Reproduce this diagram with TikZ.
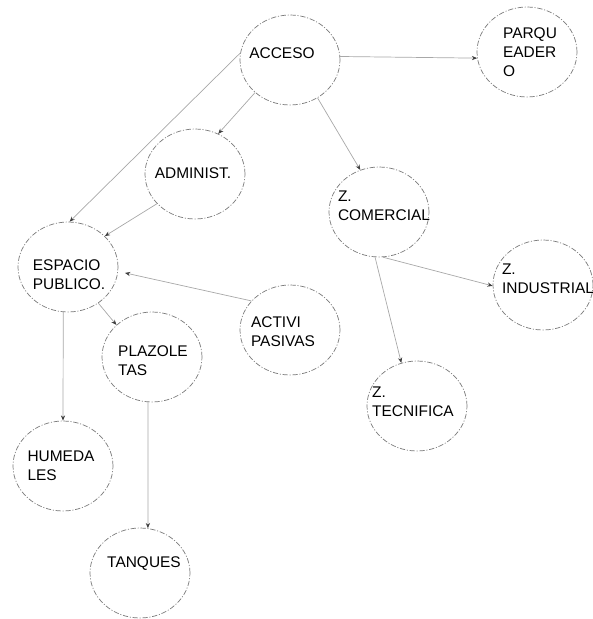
\documentclass[tikz,border=0pt]{standalone}
\usepackage{fontspec}
\setmainfont{Liberation Sans}
\usepackage{tikz}
\usetikzlibrary{shapes.geometric, arrows.meta}
\definecolor{borde}{HTML}{7A7A7A}
\definecolor{linea}{HTML}{A8A8A8}
\tikzset{
	zona/.style={ellipse, draw=borde, line width=0.4pt, dash pattern=on 3pt off 1pt on 0.6pt off 1pt, minimum width=2cm, minimum height=1.8cm, inner sep=0pt},
	texto/.style={align=left, inner sep=0pt, font=\fontsize{8.8}{10.8}\selectfont, text=black},
	flecha/.style={draw=linea, line width=0.4pt, -{Stealth[length=3pt, width=2.4pt, color=black!75]}},
}

\begin{document}
\begin{tikzpicture}[x=0.02cm, y=-0.02cm]
		\useasboundingbox (0,0) rectangle (592,619);
		% zonas
		\node[zona] (acceso) at (290,60) {};
		\node[zona] (parq) at (527,52) {};
		\node[zona] (admin) at (195,174) {};
		\node[zona] (comercial) at (379,212) {};
		\node[zona] (espacio) at (68,267) {};
		\node[zona] (industrial) at (543,285) {};
		\node[zona] (activi) at (290,330) {};
		\node[zona] (plazoletas) at (152,357) {};
		\node[zona] (tecnifica) at (417,406) {};
		\node[zona] (humedales) at (63,466) {};
		\node[zona] (tanques) at (140,573) {};

		% textos
		\node[texto] (accesoT) at (282,53) {ACCESO};
		\node[texto] (parqT) at (530,52) {PARQU\\EADER\\O};
		\node[texto] (adminT) at (193,173) {ADMINIST.};
		\node[texto] (comercialT) at (384,206) {Z.\\COMERCIAL};
		\node[texto] (espacioT) at (69,275) {ESPACIO\\PUBLICO.};
		\node[texto] (industrialT) at (548,279) {Z.\\INDUSTRIAL};
		\node[texto] (activiT) at (283,332) {ACTIVI\\PASIVAS};
		\node[texto] (plazoletasT) at (153,361) {PLAZOLE\\TAS};
		\node[texto] (tecnificaT) at (413,402) {Z.\\TECNIFICA};
		\node[texto] (humedalesT) at (61,466) {HUMEDA\\LES};
		\node[texto] (tanquesT) at (144,564) {TANQUES};

		% conexiones
		\draw[flecha] (acceso.4) -- (parq.187);
		\draw[flecha] (acceso.223) -- (admin.60);
		\draw[flecha] (acceso.172) -- (espacio.88);
		\draw[flecha] (acceso.306) -- (comercial.114);
		\draw[flecha] (admin.218) -- (espacio.40);
		\draw[flecha, shorten >=4pt] (activi.143) -- (espacio.355);
		\draw[flecha] (espacio.310) -- (plazoletas.138);
		\draw[flecha] (espacio.264) -- (humedales.north);
		\draw[flecha] (plazoletas.265) -- (tanques.80);
		\draw[flecha] (comercial.275) -- (industrial.181);
		\draw[flecha] (comercial.265) -- (tecnifica.110);
	\end{tikzpicture}
\end{document}
